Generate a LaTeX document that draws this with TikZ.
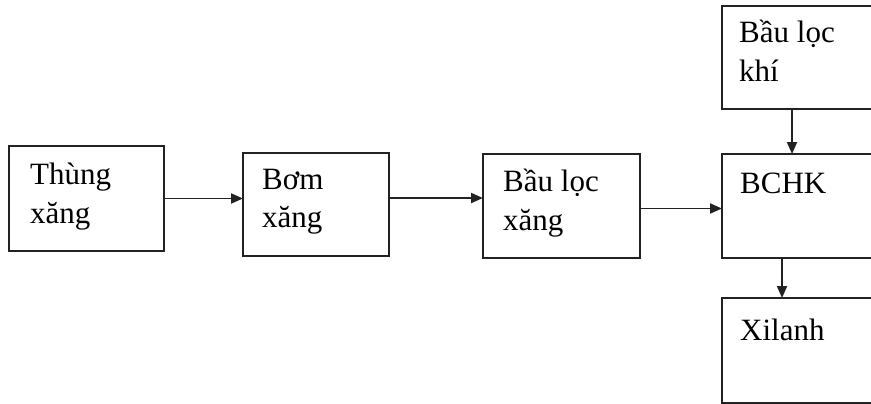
\documentclass[tikz,border=0pt]{standalone}
\usepackage{fontspec}
\setmainfont{Liberation Serif}
\usetikzlibrary{arrows.meta}
\definecolor{linec}{HTML}{222222}
\newcommand\twoln[2]{\vtop{\baselineskip=39pt\hbox{#1}\hbox{#2}}}
\tikzset{
  box/.style={draw=linec, line width=2.2pt, rectangle, inner sep=0pt, outer sep=0pt, anchor=north west},
  lbl/.style={anchor=base west, inner sep=0pt, font=\fontsize{31pt}{39pt}\selectfont, text=black},
  arr/.style={draw=linec, line width=1.9pt, -{Triangle[length=12pt,width=10pt]}}
}
\begin{document}
\begin{tikzpicture}[x=1pt,y=-1pt]
\useasboundingbox (0,0) rectangle (871,404);
\clip (0,0) rectangle (871,404);
\fill[white] (0,0) rectangle (871,404);
% boxes
\node[box, minimum width=155pt, minimum height=105pt] (thung) at (9,146) {};
\node[box, minimum width=146pt, minimum height=103pt] (bom) at (243,153) {};
\node[box, minimum width=157pt, minimum height=104pt] (loc) at (483,154) {};
\node[box, minimum width=200pt, minimum height=103pt] (khi) at (722,6) {};
\node[box, minimum width=200pt, minimum height=104pt] (bchk) at (722,154) {};
\node[box, minimum width=200pt, minimum height=105pt] (xil) at (722,298) {};
% labels
\node[lbl] (tthung) at (30,184) {\twoln{Thùng}{xăng}};
\node[lbl] (tbom) at (262,189) {\twoln{Bơm}{xăng}};
\node[lbl] (tloc) at (503,191) {\twoln{Bầu lọc}{xăng}};
\node[lbl] (tkhi) at (739,43) {\twoln{Bầu lọc}{khí}};
\node[lbl] (tbchk) at (740,193) {BCHK};
\node[lbl] (txil) at (740,340) {Xilanh};
% connectors
\draw[arr] (thung.east) -- (thung.east -| bom.west);
\draw[arr] ([yshift=6.5pt]bom.east) -- ([yshift=6.5pt]bom.east -| loc.west);
\draw[arr] ([yshift=-2.5pt]loc.east) -- ([yshift=-2.5pt]loc.east -| bchk.west);
\draw[arr] ([xshift=70pt]khi.south west) -- ([xshift=70pt]khi.south west |- bchk.north);
\draw[arr] ([xshift=60pt]bchk.south west) -- ([xshift=60pt]bchk.south west |- xil.north);
\end{tikzpicture}
\end{document}
